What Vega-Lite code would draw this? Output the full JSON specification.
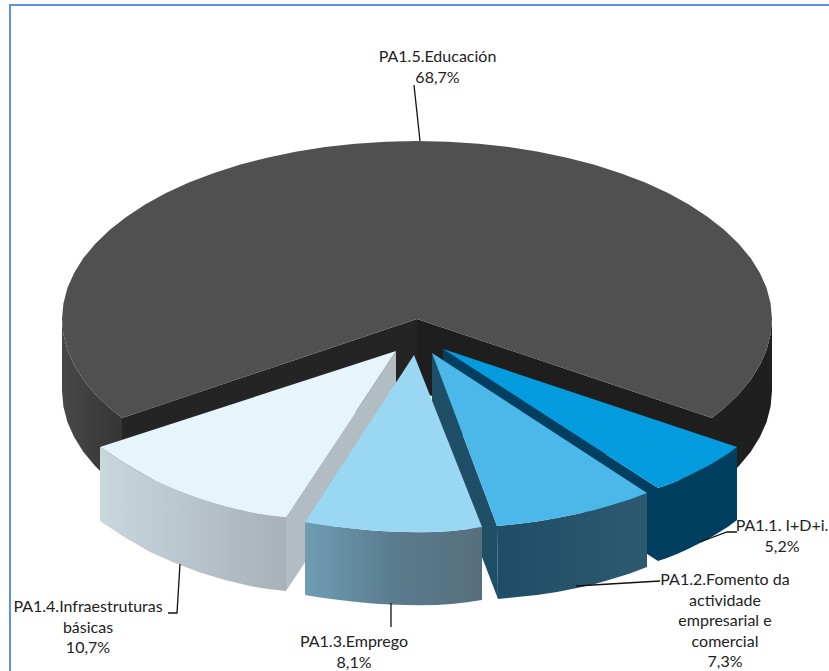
{
"$schema":"https://vega.github.io/schema/vega-lite/v6.json",
"width":829,"height":671,"padding":0,
"autosize":{"type":"fit","contains":"padding"},
"background":"white",
"config":{"view":{"stroke":null}},
"projection":{"type":"identity","scale":1,"translate":[0,0]},
"datasets":{
"parts":[
{"type":"Feature","properties":{"id":"frame"},"geometry":{"type":"LineString","coordinates":[[10,671],[10,5],[829,5]]}},
{"type":"Feature","properties":{"id":"m-wl","slice":"PA1.5.Educación","share":68.7},"geometry":{"type":"Polygon","coordinates":[[[62,319],[63.4,334.5],[67.4,349.9],[74.1,365.1],[83.4,379.9],[95.3,394.2],[109.6,408],[122,418],[122,490],[109.6,480],[95.3,466.2],[83.4,451.9],[74.1,437.1],[67.4,421.9],[63.4,406.5],[62,391],[62,319]]]}},
{"type":"Feature","properties":{"id":"m-wr","slice":"PA1.5.Educación","share":68.7},"geometry":{"type":"Polygon","coordinates":[[[712,418],[724.4,408],[738.7,394.2],[750.6,379.9],[759.9,365.1],[766.6,349.9],[770.6,334.5],[772,319],[772,391],[770.6,406.5],[766.6,421.9],[759.9,437.1],[750.6,451.9],[738.7,466.2],[724.4,480],[712,490],[712,418]]]}},
{"type":"Feature","properties":{"id":"m-il","slice":"PA1.5.Educación","share":68.7},"geometry":{"type":"Polygon","coordinates":[[[417,319],[122,418],[122,490],[417,391],[417,319]]]}},
{"type":"Feature","properties":{"id":"m-ir","slice":"PA1.5.Educación","share":68.7},"geometry":{"type":"Polygon","coordinates":[[[417,319],[712,418],[712,490],[417,391],[417,319]]]}},
{"type":"Feature","properties":{"id":"m-top","slice":"PA1.5.Educación","share":68.7},"geometry":{"type":"Polygon","coordinates":[[[417,319],[712,418],[724.4,408],[738.7,394.2],[750.6,379.9],[759.9,365.1],[766.6,349.9],[770.6,334.5],[772,319],[770.6,303.5],[766.6,288.1],[759.9,272.9],[750.6,258.1],[738.7,243.8],[724.4,230],[707.8,216.9],[688.9,204.6],[668,193.1],[645.2,182.6],[620.6,173.2],[594.5,164.8],[567,157.7],[538.4,151.7],[508.9,147.1],[478.6,143.7],[448,141.7],[417,141],[386,141.7],[355.4,143.7],[325.1,147.1],[295.6,151.7],[267,157.7],[239.5,164.8],[213.4,173.2],[188.8,182.6],[166,193.1],[145.1,204.6],[126.2,216.9],[109.6,230],[95.3,243.8],[83.4,258.1],[74.1,272.9],[67.4,288.1],[63.4,303.5],[62,319],[63.4,334.5],[67.4,349.9],[74.1,365.1],[83.4,379.9],[95.3,394.2],[109.6,408],[122,418],[417,319]]]}},
{"type":"Feature","properties":{"id":"s1-wall","slice":"PA1.1. I+D+i.","share":5.2},"geometry":{"type":"Polygon","coordinates":[[[443,349],[658,488],[667,485],[677,481],[687,476.5],[697,471.5],[708,466],[718,460],[728,453.7],[737,447],[737,520],[728,526.7],[718,533],[708,539],[697,544.5],[687,549.5],[677,554],[667,558],[658,561],[443,422],[443,349]]]}},
{"type":"Feature","properties":{"id":"s1-top","slice":"PA1.1. I+D+i.","share":5.2},"geometry":{"type":"Polygon","coordinates":[[[443,349],[737,447],[728,453.7],[718,460],[708,466],[697,471.5],[687,476.5],[677,481],[667,485],[658,488],[443,349]]]}},
{"type":"Feature","properties":{"id":"s2-in","slice":"PA1.2.Fomento da actividade empresarial e comercial","share":7.3},"geometry":{"type":"Polygon","coordinates":[[[432,353],[497,526],[498,599],[432,426],[432,353]]]}},
{"type":"Feature","properties":{"id":"s2-front","slice":"PA1.2.Fomento da actividade empresarial e comercial","share":7.3},"geometry":{"type":"Polygon","coordinates":[[[647,493],[630,499.5],[612,505],[595,510],[577,514],[557,518],[537,521.5],[517,524],[497,526],[498,599],[517,597],[537,595],[557,592],[577,588],[595,584],[612,579],[630,573.5],[647,567],[647,493]]]}},
{"type":"Feature","properties":{"id":"s2-top","slice":"PA1.2.Fomento da actividade empresarial e comercial","share":7.3},"geometry":{"type":"Polygon","coordinates":[[[432,353],[647,493],[630,499.5],[612,505],[595,510],[577,514],[557,518],[537,521.5],[517,524],[497,526],[432,353]]]}},
{"type":"Feature","properties":{"id":"s4-in","slice":"PA1.4.Infraestruturas básicas","share":10.7},"geometry":{"type":"Polygon","coordinates":[[[396,351],[286,517],[286,591],[396,425],[396,351]]]}},
{"type":"Feature","properties":{"id":"s4-front","slice":"PA1.4.Infraestruturas básicas","share":10.7},"geometry":{"type":"Polygon","coordinates":[[[100,447],[125,463.5],[150,478],[175,489],[200,498.5],[225,506],[250,512],[268,515],[286,517],[286,591],[268,589],[250,586],[225,580],[200,572.5],[175,563],[150,552],[125,537.5],[100,521],[100,447]]]}},
{"type":"Feature","properties":{"id":"s4-top","slice":"PA1.4.Infraestruturas básicas","share":10.7},"geometry":{"type":"Polygon","coordinates":[[[396,351],[100,447],[125,463.5],[150,478],[175,489],[200,498.5],[225,506],[250,512],[268,515],[286,517],[396,351]]]}},
{"type":"Feature","properties":{"id":"s3-front","slice":"PA1.3.Emprego","share":8.1},"geometry":{"type":"Polygon","coordinates":[[[305,522],[320,524.5],[335,526.5],[348,528],[362,529.5],[376,530.7],[390,531.5],[405,532],[420,532.3],[436,532],[452,531],[467,529.3],[482,527],[482,600],[467,602.3],[452,604],[436,605],[420,605.3],[405,605],[390,604.5],[376,603.7],[362,602.5],[348,601],[335,599.5],[320,597.5],[305,595],[305,522]]]}},
{"type":"Feature","properties":{"id":"s3-top","slice":"PA1.3.Emprego","share":8.1},"geometry":{"type":"Polygon","coordinates":[[[414,355],[305,522],[320,524.5],[335,526.5],[348,528],[362,529.5],[376,530.7],[390,531.5],[405,532],[420,532.3],[436,532],[452,531],[467,529.3],[482,527],[414,355]]]}},
{"type":"Feature","properties":{"id":"leader","slice":"PA1.5.Educación"},"geometry":{"type":"LineString","coordinates":[[414,85],[420,141]]}},
{"type":"Feature","properties":{"id":"leader","slice":"PA1.1. I+D+i."},"geometry":{"type":"LineString","coordinates":[[700,542],[727,532],[737,532]]}},
{"type":"Feature","properties":{"id":"leader","slice":"PA1.2"},"geometry":{"type":"LineString","coordinates":[[576,586],[660,581]]}},
{"type":"Feature","properties":{"id":"leader","slice":"PA1.3.Emprego"},"geometry":{"type":"LineString","coordinates":[[391,603],[391,627]]}},
{"type":"Feature","properties":{"id":"leader","slice":"PA1.4"},"geometry":{"type":"LineString","coordinates":[[180,564],[177,613],[168,613]]}}
],
"labels":[
{"label":"PA1.5.Educación\n68,7%","lon":437.5,"lat":57},
{"label":"PA1.1. I+D+i.\n5,2%","lon":782,"lat":526},
{"label":"PA1.2.Fomento da\nactividade\nempresarial e\ncomercial\n7,3%","lon":725,"lat":580},
{"label":"PA1.3.Emprego\n8,1%","lon":354,"lat":642},
{"label":"PA1.4.Infraestruturas\nbásicas\n10,7%","lon":88,"lat":607}
]
},
"data":{"name":"parts"},
"layer":[
{"transform":[{"filter":"datum.properties.id=='frame'"}],"mark":{"type":"geoshape","filled":false,"stroke":"#5f92d8","strokeWidth":2}},
{"transform":[{"filter":"datum.properties.id=='m-wl'"}],"mark":{"type":"geoshape","strokeWidth":0,"fill":{"gradient":"linear","x1":0,"y1":0,"x2":1,"y2":0,"stops":[{"offset":0,"color":"#484848"},{"offset":1,"color":"#353535"}]}}},
{"transform":[{"filter":"datum.properties.id=='m-wr'"}],"mark":{"type":"geoshape","strokeWidth":0,"fill":"#1f1f1f"}},
{"transform":[{"filter":"datum.properties.id=='m-il'"}],"mark":{"type":"geoshape","strokeWidth":0,"fill":"#242424"}},
{"transform":[{"filter":"datum.properties.id=='m-ir'"}],"mark":{"type":"geoshape","strokeWidth":0,"fill":"#1e1e1e"}},
{"transform":[{"filter":"datum.properties.id=='m-top'"}],"mark":{"type":"geoshape","strokeWidth":0,"fill":"#505050"}},
{"transform":[{"filter":"datum.properties.id=='s1-wall'"}],"mark":{"type":"geoshape","strokeWidth":0,"fill":"#003f60"}},
{"transform":[{"filter":"datum.properties.id=='s1-top'"}],"mark":{"type":"geoshape","strokeWidth":0,"fill":"#059bdf"}},
{"transform":[{"filter":"datum.properties.id=='s2-in'"}],"mark":{"type":"geoshape","strokeWidth":0,"fill":"#1f4f66"}},
{"transform":[{"filter":"datum.properties.id=='s2-front'"}],"mark":{"type":"geoshape","strokeWidth":0,"fill":{"gradient":"linear","x1":0,"y1":0,"x2":1,"y2":0,"stops":[{"offset":0,"color":"#1f4d66"},{"offset":1,"color":"#2d5a6f"}]}}},
{"transform":[{"filter":"datum.properties.id=='s2-top'"}],"mark":{"type":"geoshape","strokeWidth":0,"fill":"#4bb8e9"}},
{"transform":[{"filter":"datum.properties.id=='s4-in'"}],"mark":{"type":"geoshape","strokeWidth":0,"fill":"#b1bdc3"}},
{"transform":[{"filter":"datum.properties.id=='s4-front'"}],"mark":{"type":"geoshape","strokeWidth":0,"fill":{"gradient":"linear","x1":0,"y1":0,"x2":1,"y2":0,"stops":[{"offset":0,"color":"#c9d7de"},{"offset":1,"color":"#a7b1b7"}]}}},
{"transform":[{"filter":"datum.properties.id=='s4-top'"}],"mark":{"type":"geoshape","strokeWidth":0,"fill":"#e6f4fc"}},
{"transform":[{"filter":"datum.properties.id=='s3-front'"}],"mark":{"type":"geoshape","strokeWidth":0,"fill":{"gradient":"linear","x1":0,"y1":0,"x2":1,"y2":0,"stops":[{"offset":0,"color":"#6f9db4"},{"offset":0.5,"color":"#5a7c8e"},{"offset":1,"color":"#566f7d"}]}}},
{"transform":[{"filter":"datum.properties.id=='s3-top'"}],"mark":{"type":"geoshape","strokeWidth":0,"fill":"#99d7f3"}},
{"transform":[{"filter":"datum.properties.id=='leader'"}],"mark":{"type":"geoshape","filled":false,"stroke":"#111111","strokeWidth":1.3}},
{"data":{"name":"labels"},"mark":{"type":"text","font":"Lato","fontSize":16,"color":"#222222","align":"center","baseline":"middle","lineBreak":"\n","lineHeight":20.5},"encoding":{"longitude":{"field":"lon","type":"quantitative"},"latitude":{"field":"lat","type":"quantitative"},"text":{"field":"label"}}}
]
}
